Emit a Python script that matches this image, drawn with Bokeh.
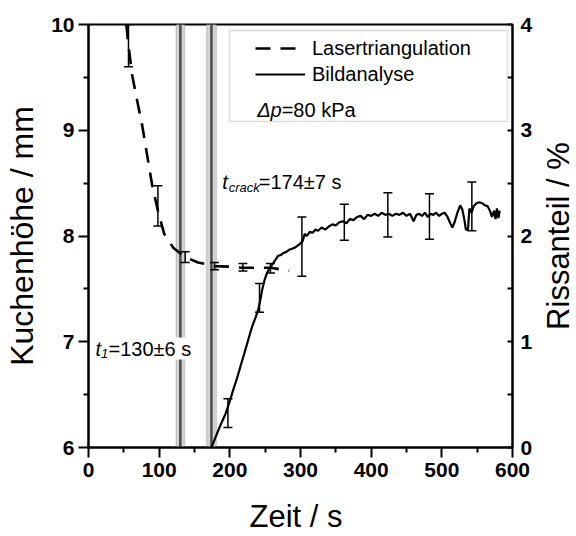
import math
from bokeh.plotting import figure
from bokeh.models import (Range1d, LinearAxis, ColumnDataSource, Whisker, TeeHead,
                          BoxAnnotation, Span, Label, Legend, LegendItem, FixedTicker)
from bokeh.embed import file_html
from bokeh.resources import INLINE

# ---------------- data ----------------
# Lasertriangulation (cake height, mm)
laser_t = [53.5, 56.6, 61.8, 68.9, 76.0, 83.1, 90.1, 98.2, 107.1, 119.9, 133.6, 137.0,
           155.0, 178.0, 198.0, 218.0, 240.0, 258.0, 284.0]
laser_h = [10.0, 9.80, 9.52, 9.28, 9.045, 8.76, 8.48, 8.24, 8.02, 7.89, 7.815, 7.80,
           7.75, 7.715, 7.71, 7.70, 7.70, 7.70, 7.67]
laser_err_t = [56.6, 98.2, 136.8, 178.3, 218.5, 257.5]
laser_err_h = [9.80, 8.285, 7.80, 7.715, 7.705, 7.695]
laser_err_d = [0.20, 0.19, 0.05, 0.035, 0.035, 0.045]

# Bildanalyse (crack fraction, %)
bild_t = [174, 177, 180, 183, 186, 190, 194, 197, 201, 205, 209, 213, 216, 220, 224, 227,
          230, 233, 237, 240, 243, 246, 249, 252, 255, 258, 261, 264, 268, 272, 276, 280,
          284, 288, 292, 296, 300, 303, 306, 309, 313, 317, 321, 325, 330, 335, 340, 345,
          350, 355, 360, 365, 370, 375, 380, 385, 390, 395, 400, 405, 410, 415, 420, 425,
          430, 435, 440, 445, 450, 455, 460, 464, 468, 472, 476, 480, 484, 488, 492, 496,
          500, 504, 508, 512, 515, 518, 522, 526, 529, 532, 534, 537, 539, 542, 545, 549,
          553, 557, 561, 565, 568, 571, 574, 576, 578, 580, 582]
bild_p = [0.00, 0.05, 0.10, 0.15, 0.20, 0.26, 0.32, 0.38, 0.46, 0.55, 0.63, 0.72, 0.79, 0.88,
          0.97, 1.04, 1.11, 1.17, 1.24, 1.30, 1.39, 1.50, 1.58, 1.64, 1.68, 1.71, 1.74, 1.77,
          1.81, 1.82, 1.84, 1.85, 1.87, 1.88, 1.89, 1.91, 1.93, 1.95, 2.02, 2.00, 2.04, 2.03,
          2.06, 2.05, 2.08, 2.06, 2.09, 2.11, 2.10, 2.13, 2.14, 2.12, 2.16, 2.15, 2.18, 2.19,
          2.16, 2.20, 2.19, 2.21, 2.19, 2.22, 2.20, 2.21, 2.19, 2.21, 2.20, 2.22, 2.19, 2.21,
          2.14, 2.20, 2.21, 2.19, 2.22, 2.18, 2.21, 2.20, 2.22, 2.19, 2.21, 2.22, 2.18, 2.12,
          2.08, 2.13, 2.22, 2.29, 2.25, 2.15, 2.06, 2.06, 2.26, 2.22, 2.28, 2.31, 2.32, 2.31,
          2.29, 2.28, 2.24, 2.18, 2.24, 2.16, 2.26, 2.17, 2.24]
bild_err_t = [197.3, 242.0, 302.0, 362.0, 423.6, 482.5, 542.5]
bild_err_p = [0.325, 1.415, 1.90, 2.13, 2.20, 2.185, 2.28]
bild_err_d = [0.135, 0.135, 0.28, 0.17, 0.21, 0.215, 0.23]

# characteristic times (s) with uncertainty
event_t = [130, 174]
event_d = [6, 7]

x_ticks = [0, 100, 200, 300, 400, 500, 600]
h_ticks = [6, 7, 8, 9, 10]
p_ticks = [0, 1, 2, 3, 4]

FONT = "Liberation Sans"


def minors(ticks):
    return [(a + b) / 2 for a, b in zip(ticks[:-1], ticks[1:])]


# ---------------- figure ----------------
p = figure(width=576, height=536, x_range=Range1d(0, 600), y_range=Range1d(6, 10),
           output_backend="svg", toolbar_location=None,
           min_border_left=88, min_border_right=64, min_border_top=24, min_border_bottom=89,
           y_axis_label="Kuchenhöhe / mm",
           background_fill_color="white", border_fill_color="white")
p.extra_y_ranges = {"pct": Range1d(0, 4)}
p.xgrid.visible = False
p.ygrid.visible = False
p.outline_line_color = "black"
p.outline_line_width = 2

raxis = LinearAxis(y_range_name="pct")
p.add_layout(raxis, "right")

p.xaxis.ticker = FixedTicker(ticks=x_ticks, minor_ticks=minors(x_ticks))
p.yaxis.ticker = FixedTicker(ticks=h_ticks, minor_ticks=minors(h_ticks))
raxis.ticker = FixedTicker(ticks=p_ticks, minor_ticks=minors(p_ticks))

for ax in [p.xaxis[0], p.yaxis[0], raxis]:
    ax.axis_line_color = "black"
    ax.axis_line_width = 2
    ax.major_tick_line_color = "black"
    ax.major_tick_line_width = 2
    ax.minor_tick_line_color = "black"
    ax.minor_tick_line_width = 2
    ax.major_tick_out = 10
    ax.major_tick_in = 0
    ax.minor_tick_out = 5
    ax.minor_tick_in = 0
    ax.major_label_text_font = FONT
    ax.major_label_text_font_style = "bold"
    ax.major_label_text_font_size = "21px"
    ax.major_label_text_color = "black"
    ax.major_label_standoff = 4
    ax.axis_label_text_font = FONT
    ax.axis_label_text_font_style = "normal"
    ax.axis_label_text_font_size = "32px"
    ax.axis_label_text_color = "black"

p.yaxis[0].axis_label_standoff = 8
p.xaxis[0].major_label_standoff = 5
raxis.major_tick_out = 0
raxis.major_tick_in = 5
raxis.minor_tick_out = 0
raxis.minor_tick_in = 5
raxis.major_label_standoff = 8

# ---------------- event bands ----------------
for t, d in zip(event_t, event_d):
    p.add_layout(BoxAnnotation(left=t - d, right=t + d, fill_color="#d4d4d4", fill_alpha=1.0,
                               line_color="#8c8c8c", line_width=1.5, level="underlay"))
    p.add_layout(Span(location=t, dimension="height", line_color="#4a4a4a",
                      line_width=2.5, level="underlay"))

# ---------------- curves ----------------
r_laser = p.line(laser_t, laser_h, line_color="black", line_width=2.6, line_dash="15 10")
r_bild = p.line(bild_t, bild_p, y_range_name="pct", line_color="black", line_width=2.2)

src_le = ColumnDataSource(dict(t=laser_err_t,
                               lo=[h - d for h, d in zip(laser_err_h, laser_err_d)],
                               hi=[h + d for h, d in zip(laser_err_h, laser_err_d)]))
src_be = ColumnDataSource(dict(t=bild_err_t,
                               lo=[v - d for v, d in zip(bild_err_p, bild_err_d)],
                               hi=[v + d for v, d in zip(bild_err_p, bild_err_d)]))


def head():
    return TeeHead(size=9, line_color="black", line_width=1.5)


p.add_layout(Whisker(source=src_le, base="t", lower="lo", upper="hi", dimension="height",
                     line_color="black", line_width=1.5, upper_head=head(), lower_head=head()))
p.add_layout(Whisker(source=src_be, base="t", lower="lo", upper="hi", dimension="height",
                     y_range_name="pct", line_color="black", line_width=1.5,
                     upper_head=head(), lower_head=head()))

# ---------------- annotations ----------------
def mk(x, y, text, size="20px", style="normal", dx=0, dy=0, bg=None, **extra):
    kw = dict(x=x, y=y, text=text, text_font=FONT, text_font_size=size,
              text_font_style=style, text_color="black", text_baseline="alphabetic",
              x_offset=dx, y_offset=dy)
    if bg:
        kw["background_fill_color"] = bg
    kw.update(extra)
    return Label(**kw)


def lbl(*a, **k):
    p.add_layout(mk(*a, **k))


# t_1
lbl(9.9, 6.936, "t", style="italic")
lbl(9.9, 6.936, "1", size="13px", style="italic", dx=5.5, dy=-5)
lbl(9.9, 6.936, "=130±6 s", dx=13, bg="white")
# t_crack
lbl(189.2, 8.509, "t", style="italic")
lbl(189.2, 8.509, "crack", size="13px", style="italic", dx=6.5, dy=-5)
lbl(189.2, 8.509, "=174±7 s", dx=36.5)

# legend frame
p.add_layout(BoxAnnotation(left=199.5, right=592.9, top=9.943, bottom=9.083,
                           fill_color="white", fill_alpha=1.0, line_color="#8c8c8c",
                           line_width=1.5))
legend = Legend(items=[LegendItem(label="Lasertriangulation", renderers=[r_laser]),
                       LegendItem(label="Bildanalyse", renderers=[r_bild])],
                location=(167, 361), padding=0, spacing=2, margin=0,
                glyph_width=50, glyph_height=24, label_height=24, label_standoff=7,
                label_text_font=FONT, label_text_font_size="20px", label_text_color="black",
                border_line_alpha=0, background_fill_alpha=0)
p.add_layout(legend)
lbl(238.7, 9.187, "Δp", style="italic")
lbl(238.7, 9.187, "=80 kPa", dx=24.5)

# axis titles for x and right axis, placed in the side panels
p.add_layout(mk(293.6, 5.215, "Zeit / s", size="31px", text_align="center", dy=14), "below")
p.add_layout(mk(686.3, 8.0, "Rissanteil / %", size="31px", text_align="center",
                angle=math.pi / 2, dx=-15), "right")

open("out.html", "w").write(file_html(p, INLINE))
